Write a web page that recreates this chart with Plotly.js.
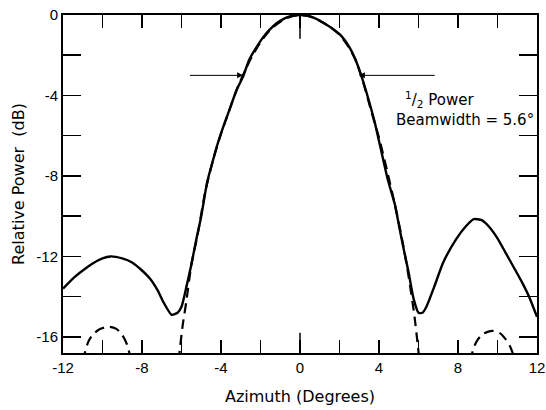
<!DOCTYPE html>
<html>
<head>
<meta charset="utf-8">
<script src="https://cdn.plot.ly/plotly-3.0.1.min.js"></script>
<style>html,body{margin:0;padding:0;background:#fff}#chart{width:546px;height:410px}</style>
</head>
<body>
<div id="chart"></div>
<script>
// Measured pattern (solid)
var measuredAz = [-12, -11.5, -11, -10.5, -10, -9.6, -9, -8.5, -8, -7.6, -7.2, -6.9, -6.5, -6.2, -6.0, -5.75, -5.5, -5.25, -5.0, -4.7, -4.4, -4.2, -3.9, -3.57, -3.2, -2.9, -2.56, -2.2, -1.9, -1.56, -1.2, -0.8, -0.4, 0, 0.4, 0.8, 1.2, 1.6, 2.1, 2.5, 2.8, 3.1, 3.47, 3.8, 4.1, 4.45, 4.8, 5.0, 5.2, 5.5, 5.75, 6.0, 6.2, 6.4, 6.8, 7.25, 7.9, 8.4, 8.8, 9.2, 9.55, 10.0, 10.4, 10.8, 11.25, 11.6, 12];
var measuredDb = [-13.6, -13.1, -12.7, -12.35, -12.1, -12.0, -12.1, -12.3, -12.7, -13.1, -13.7, -14.3, -14.9, -14.8, -14.5, -13.5, -12.4, -11.15, -10.0, -8.3, -7.2, -6.5, -5.6, -4.7, -3.7, -3.1, -2.2, -1.6, -1.15, -0.75, -0.42, -0.18, -0.04, 0, -0.04, -0.18, -0.4, -0.65, -1.05, -1.6, -2.2, -3.0, -4.2, -5.4, -6.7, -8.2, -9.4, -10.4, -11.4, -12.8, -14.1, -14.8, -14.8, -14.5, -13.5, -12.3, -11.15, -10.5, -10.15, -10.2, -10.5, -11.1, -11.8, -12.5, -13.3, -14.0, -15.0];

// Theoretical pattern (dashed) - main lobe
var theoryMainAz = [-6.15, -5.95, -5.75, -5.5, -5.2, -4.8, -4.4, -4.0, -3.6, -3.2, -2.8, -2.4, -2.0, -1.6, -1.2, -0.8, -0.4, 0, 0.4, 0.8, 1.2, 1.6, 2.0, 2.4, 2.8, 3.2, 3.6, 4.0, 4.4, 4.8, 5.2, 5.5, 5.8, 6.05];
var theoryMainDb = [-17.2, -15.5, -14.2, -12.4, -11.0, -8.8, -7.2, -5.9, -4.8, -3.7, -2.8, -2.0, -1.35, -0.85, -0.48, -0.22, -0.06, 0, -0.05, -0.18, -0.4, -0.65, -0.98, -1.5, -2.2, -3.35, -4.75, -6.1, -7.7, -9.4, -11.3, -13.0, -15.0, -17.2];
// Theoretical sidelobes (dashed)
var theoryLeftAz = [-11.0, -10.7, -10.4, -10.1, -9.7, -9.3, -9.0, -8.75, -8.55];
var theoryLeftDb = [-17.2, -16.2, -15.8, -15.6, -15.5, -15.6, -15.9, -16.4, -17.2];
var theoryRightAz = [8.6, 8.9, 9.2, 9.5, 9.75, 10.1, 10.4, 10.65, 10.9];
var theoryRightDb = [-17.2, -16.3, -15.9, -15.75, -15.7, -15.8, -16.1, -16.5, -17.2];

var xTickVals = [-12, -10, -8, -6, -4, -2, 0, 2, 4, 6, 8, 10, 12];
var xTickText = ['-12', '', '-8', '', '-4', '', '0', '', '4', '', '8', '', '12'];
var yTickVals = [0, -2, -4, -6, -8, -10, -12, -14, -16];
var yTickText = ['0', '', '-4', '', '-8', '', '-12', '', '-16'];

var halfPowerDb = -3;
var halfPowerLeft = -2.88, halfPowerRight = 2.98;

var font = 'Liberation Sans, Arial, sans-serif';
var labelFont = 'DejaVu Sans, Liberation Sans, sans-serif';
var dashStyle = '10px,6px';

var traces = [
  {x: measuredAz, y: measuredDb, mode: 'lines', line: {color: '#000', width: 2.4, shape: 'spline', smoothing: 0.6}, hoverinfo: 'skip'},
  {x: theoryMainAz, y: theoryMainDb, mode: 'lines', line: {color: '#000', width: 2.2, dash: dashStyle, shape: 'spline', smoothing: 0.6}, hoverinfo: 'skip'},
  {x: theoryLeftAz, y: theoryLeftDb, mode: 'lines', line: {color: '#000', width: 2.2, dash: dashStyle, shape: 'spline', smoothing: 0.8}, hoverinfo: 'skip'},
  {x: theoryRightAz, y: theoryRightDb, mode: 'lines', line: {color: '#000', width: 2.2, dash: dashStyle, shape: 'spline', smoothing: 0.8}, hoverinfo: 'skip'}
];

var layout = {
  width: 546, height: 410,
  margin: {l: 63, r: 9, t: 15, b: 57},
  paper_bgcolor: '#fff', plot_bgcolor: '#fff',
  showlegend: false,
  font: {family: font, color: '#000', size: 15},
  xaxis: {
    range: [-12, 12], tickvals: xTickVals, ticktext: xTickText,
    ticks: 'inside', ticklen: 13, tickwidth: 1.5, tickcolor: '#000',
    showline: true, linewidth: 2, linecolor: '#000', mirror: 'allticks',
    showgrid: false, zeroline: false, automargin: false, ticklabeloverflow: 'allow',
    tickfont: {family: font, size: 15},
    title: {text: 'Azimuth (Degrees)', font: {family: labelFont, size: 16}, standoff: 16}
  },
  yaxis: {
    range: [-16.8, 0], tickvals: yTickVals, ticktext: yTickText,
    ticks: 'inside', ticklen: 18, tickwidth: 1.5, tickcolor: '#000',
    showline: true, linewidth: 2, linecolor: '#000', mirror: 'allticks',
    showgrid: false, zeroline: false, automargin: false, ticklabeloverflow: 'allow',
    tickfont: {family: font, size: 15},
    title: {text: 'Relative Power  (dB)', font: {family: labelFont, size: 16}, standoff: 8}
  },
  shapes: [
    {type: 'line', xref: 'x', yref: 'paper', x0: 0, x1: 0, y0: 0, y1: 0.06, line: {color: '#000', width: 1.5}},
    {type: 'line', xref: 'x', yref: 'paper', x0: 0, x1: 0, y0: 1, y1: 0.93, line: {color: '#000', width: 1.5}}
  ],
  annotations: [
    {x: halfPowerLeft, y: halfPowerDb, ax: -5.65, ay: halfPowerDb, xref: 'x', yref: 'y', axref: 'x', ayref: 'y',
     text: '', showarrow: true, arrowhead: 2, arrowsize: 1.2, arrowwidth: 1, arrowcolor: '#000'},
    {x: halfPowerRight, y: halfPowerDb, ax: 6.9, ay: halfPowerDb, xref: 'x', yref: 'y', axref: 'x', ayref: 'y',
     text: '', showarrow: true, arrowhead: 2, arrowsize: 1.2, arrowwidth: 1, arrowcolor: '#000'},
    {x: 5.2, y: -4.2, xref: 'x', yref: 'y', xanchor: 'left', yanchor: 'middle', showarrow: false,
     text: '<sup>1</sup>/<sub>2</sub> Power', font: {family: labelFont, size: 15}},
    {x: 4.75, y: -5.2, xref: 'x', yref: 'y', xanchor: 'left', yanchor: 'middle', showarrow: false,
     text: 'Beamwidth = 5.6°', font: {family: labelFont, size: 15}}
  ]
};

Plotly.newPlot('chart', traces, layout, {displayModeBar: false, staticPlot: true});
</script>
</body>
</html>
